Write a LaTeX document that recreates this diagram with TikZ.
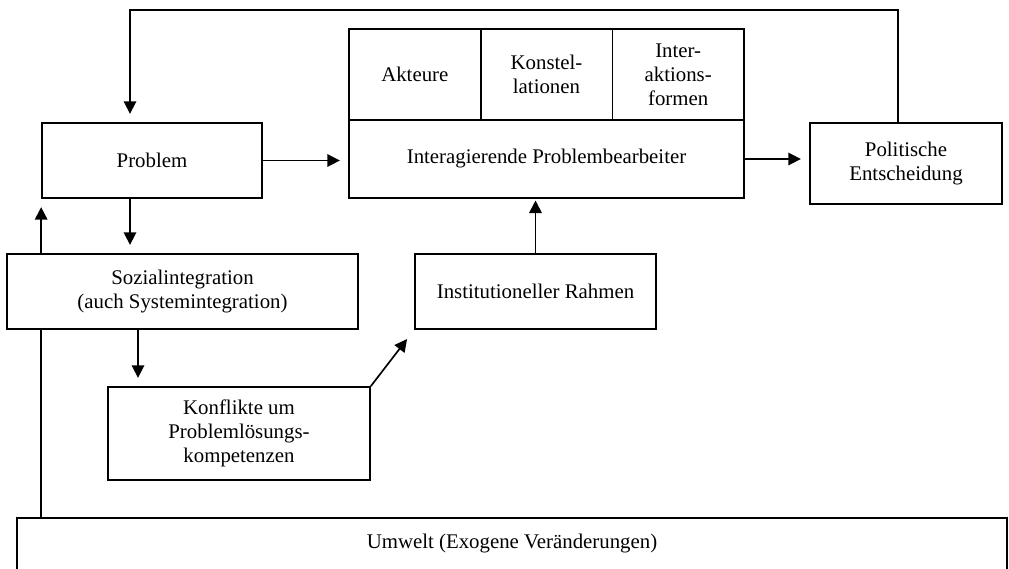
\documentclass[tikz,border=0pt]{standalone}
\usepackage{fontspec}
\setmainfont{Liberation Serif}
\usetikzlibrary{arrows.meta, calc, positioning}

\begin{document}
\begin{tikzpicture}[x=0.6pt, y=-0.6pt, line width=1pt,
	box/.style={shape=rectangle, draw=black, fill=white, align=center, inner sep=0pt, font=\fontsize{12.5}{14.5}\selectfont},
	arr/.style={-{Triangle[length=7.5pt,width=7.5pt]}, shorten >=5pt}]
\useasboundingbox (0,0) rectangle (1009,568);
\node[box, minimum width=132pt, minimum height=45pt] (prob) at (152,160.5) {Problem};
\foreach \x/\t [count=\i] in {414.8/Akteure, 546.5/{Konstel-\\lationen}, 678.2/{Inter-\\aktions-\\formen}}{
	\node[box, minimum width=79pt, minimum height=54.6pt] (c\i) at (\x,74.5) {\t};
}
\node[box, minimum width=237pt, minimum height=46.8pt] (bot) at (546.5,159) {Interagierende Problembearbeiter};
\node[box, minimum width=115.2pt, minimum height=48.6pt] (pol) at (906,163.5) {Politische\\Entscheidung};
\node[box, minimum width=210.6pt, minimum height=45pt] (soz) at (182.5,291.5) {Sozialintegration\\(auch Systemintegration)};
\node[box, minimum width=144.6pt, minimum height=45pt] (inst) at (535.5,291.5) {Institutioneller Rahmen};
\node[box, minimum width=157.2pt, minimum height=55.8pt] (konf) at (239,433.5) {Konflikte um\\Problemlösungs-\\kompetenzen};
\node[box, minimum width=594pt, minimum height=31.2pt] (umw) at (512,544) {Umwelt (Exogene Veränderungen)};
\coordinate (xa) at (130,0);
\coordinate (xc) at (138,0);
\coordinate (xe) at (898,0);
\coordinate (fbtop) at (130,10);
% Rueckkopplung
\draw[arr] (pol.north -| xe) |- (fbtop) -- (prob.north -| xa);
\draw[arr] (prob.east) -- (prob.east -| bot.west);
\draw[arr] (bot.east) -- (bot.east -| pol.west);
\draw[arr] (prob.south -| xa) -- (soz.north -| xa);
\draw[arr] (soz.north -| prob.west) -- (prob.south west);
\draw (umw.north -| prob.west) -- (soz.south -| prob.west);
\draw[arr] (soz.south -| xc) -- (konf.north -| xc);
\draw[arr, shorten >=7pt] (konf.north east) -- (inst.south west);
\draw[arr, shorten >=1pt] (inst.north) -- (inst.north |- bot.south);
\end{tikzpicture}
\end{document}
